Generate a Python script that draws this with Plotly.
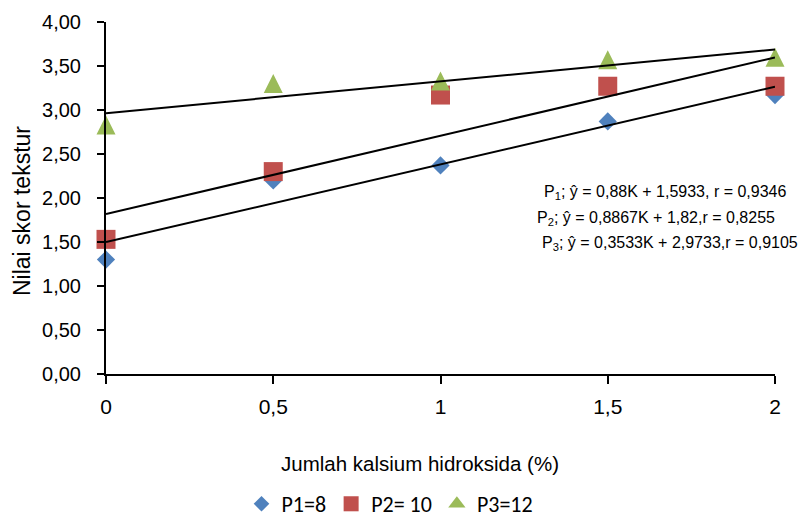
import numpy as np
import plotly.graph_objects as go

# ---- data ----
x_vals = [0, 0.5, 1, 1.5, 2]
x_ticktext = ["0", "0,5", "1", "1,5", "2"]
y_tickvals = [0, 0.5, 1, 1.5, 2, 2.5, 3, 3.5, 4]
y_ticktext = ["0,00", "0,50", "1,00", "1,50", "2,00", "2,50", "3,00", "3,50", "4,00"]

series_names = ["P1=8", "P2= 10", "P3=12"]
p1 = [1.30, 2.20, 2.37, 2.87, 3.17]
p2 = [1.53, 2.30, 3.17, 3.27, 3.27]
p3 = [2.83, 3.30, 3.33, 3.57, 3.60]

equations = [
    "P<sub>1</sub>; ŷ = 0,88K + 1,5933, r = 0,9346",
    "P<sub>2</sub>; ŷ = 0,8867K + 1,82,r = 0,8255",
    "P<sub>3</sub>; ŷ = 0,3533K + 2,9733,r = 0,9105",
]

x_title = "Jumlah kalsium hidroksida (%)"
y_title = "Nilai skor tekstur"

# ---- style ----
NARROW = "Liberation Sans Narrow, Arial Narrow, Liberation Sans, Arial, sans-serif"
REG = "Liberation Sans, Arial, sans-serif"
LEG = "Carlito, Calibri, Lato, sans-serif"
colors = ["#4F81BD", "#C0504D", "#9BBB59"]

fig = go.Figure()

marker_specs = [
    dict(symbol="diamond", size=14),
    dict(symbol="square", size=19),
    dict(symbol="arrow-down", size=19, angle=180, standoff=9.5),
]
legend_specs = [
    dict(symbol="diamond", size=12),
    dict(symbol="square", size=15),
    dict(symbol="triangle-up", size=15),
]

for name, ys, col, spec in zip(series_names, [p1, p2, p3], colors, marker_specs):
    fig.add_trace(go.Scatter(
        x=x_vals, y=ys, mode="markers", name=name, showlegend=False,
        marker=dict(color=col, line=dict(width=0), **spec),
        cliponaxis=False,
    ))

# linear trendlines fitted to each series
xs_line = np.array([min(x_vals), max(x_vals)])
for ys in [p1, p2, p3]:
    slope, intercept = np.polyfit(x_vals, ys, 1)
    fig.add_trace(go.Scatter(
        x=xs_line, y=slope * xs_line + intercept, mode="lines",
        line=dict(color="black", width=2), showlegend=False,
        hoverinfo="skip", cliponaxis=False,
    ))

# legend entries (same series, legend-sized symbols)
for name, col, spec in zip(series_names, colors, legend_specs):
    fig.add_trace(go.Scatter(
        x=[None], y=[None], mode="markers", name=name,
        marker=dict(color=col, line=dict(width=0), **spec),
    ))

W, H = 804, 519
L, R, T, B = 106, 29, 22, 145
pw, ph = W - L - R, H - T - B

def px_to_paper(px, py):
    return (px - L) / pw, (H - B - py) / ph

annotations = []
eq_pos = [(542, 192), (535, 218), (540, 244)]
for txt, (ex, ey) in zip(equations, eq_pos):
    ax, ay = px_to_paper(ex, ey)
    annotations.append(dict(
        text=txt, x=ax, y=ay, xref="paper", yref="paper",
        xanchor="left", yanchor="middle", showarrow=False,
        font=dict(family=NARROW, size=16, color="black"),
    ))

ax, ay = px_to_paper(420, 463)
annotations.append(dict(
    text=x_title, x=ax, y=ay, xref="paper", yref="paper",
    xanchor="center", yanchor="middle", showarrow=False,
    font=dict(family=NARROW, size=20.5, color="black"),
))
ax, ay = px_to_paper(22, 211)
annotations.append(dict(
    text=y_title, x=ax, y=ay, xref="paper", yref="paper",
    xanchor="center", yanchor="middle", showarrow=False, textangle=-90,
    font=dict(family=REG, size=23, color="black"),
))

fig.update_layout(
    width=W, height=H,
    margin=dict(l=L, r=R, t=T, b=B, pad=0),
    paper_bgcolor="white", plot_bgcolor="white",
    showlegend=True,
    legend=dict(
        orientation="h", xref="container", yref="container",
        x=390 / W, y=(H - 504) / H, xanchor="center", yanchor="middle",
        font=dict(family=LEG, size=22, color="black"),
        itemwidth=30, tracegroupgap=0, bgcolor="rgba(0,0,0,0)",
    ),
    annotations=annotations,
    xaxis=dict(
        range=[0, 2], tickvals=x_vals, ticktext=x_ticktext,
        showgrid=False, zeroline=False, showline=True, automargin=False,
        linecolor="black", linewidth=2, ticks="outside", ticklen=8,
        tickwidth=2, tickcolor="black",
        tickfont=dict(family=NARROW, size=21, color="black"),
        ticklabelstandoff=5,
    ),
    yaxis=dict(
        range=[0, 4], tickvals=y_tickvals, ticktext=y_ticktext,
        showgrid=False, zeroline=False, showline=True, automargin=False,
        linecolor="black", linewidth=2, ticks="outside", ticklen=7,
        tickwidth=2, tickcolor="black",
        tickfont=dict(family=NARROW, size=20, color="black"),
        ticklabelstandoff=12,
    ),
)

fig.write_html(
    "out.html",
    config={"displayModeBar": False},
    post_script="document.body.style.margin='0';document.body.style.overflow='hidden';",
)
